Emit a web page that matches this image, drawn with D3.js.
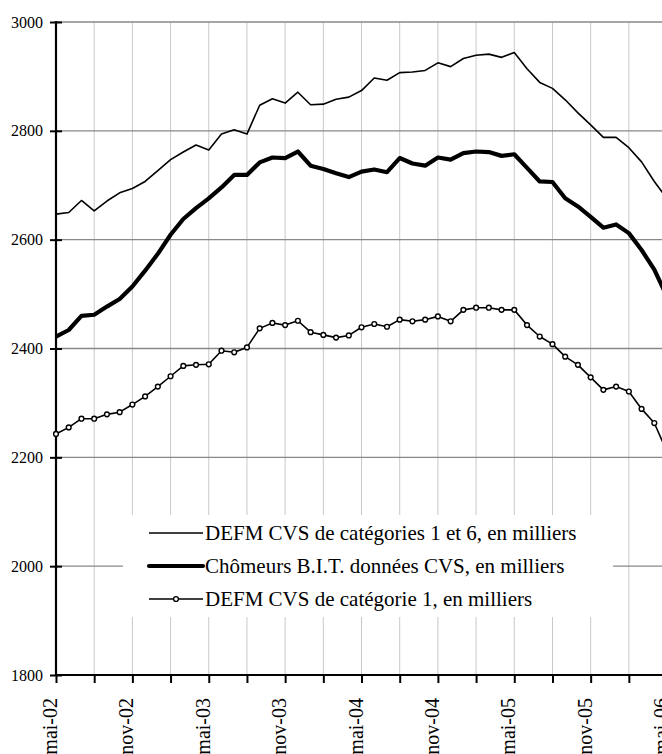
<!DOCTYPE html>
<html>
<head>
<meta charset="utf-8">
<script src="https://cdn.jsdelivr.net/npm/d3@7"></script>
<style>
  body { margin: 0; background: #fff; }
  svg text { font-family: 'Liberation Serif', 'DejaVu Serif', 'Times New Roman', Times, serif; }
</style>
</head>
<body>
<div id="chart"></div>
<script>
// monthly points, mai-02 .. mai-06
const tickLabels = ['mai-02', 'nov-02', 'mai-03', 'nov-03', 'mai-04', 'nov-04', 'mai-05', 'nov-05', 'mai-06'];
const yTicks = [1800, 2000, 2200, 2400, 2600, 2800, 3000];

const seriesNames = [
  'DEFM CVS de catégories 1 et 6, en milliers',
  'Chômeurs B.I.T. données CVS, en milliers',
  'DEFM CVS de catégorie 1, en milliers'
];

const defm16 = [2647, 2650, 2672, 2653, 2671, 2686, 2694, 2707, 2727, 2747, 2761, 2774, 2765, 2794, 2802, 2794,
  2847, 2859, 2851, 2871, 2848, 2849, 2858, 2862, 2874, 2897, 2893, 2907, 2908, 2911, 2925, 2918,
  2933, 2939, 2941, 2935, 2944, 2914, 2889, 2878, 2857, 2833, 2811, 2788, 2788, 2769, 2743, 2707, 2675];

const bit = [2422, 2434, 2460, 2462, 2477, 2491, 2514, 2543, 2574, 2609, 2638, 2658, 2676, 2696, 2719, 2719,
  2742, 2751, 2750, 2762, 2736, 2730, 2722, 2715, 2725, 2729, 2724, 2750, 2740, 2736, 2751, 2747,
  2759, 2762, 2761, 2754, 2757, 2732, 2707, 2706, 2676, 2661, 2642, 2622, 2628, 2612, 2581, 2545, 2495];

const defm1 = [2243, 2255, 2271, 2271, 2279, 2283, 2297, 2312, 2330, 2349, 2368, 2370, 2371, 2396, 2393, 2402,
  2437, 2447, 2443, 2451, 2430, 2425, 2420, 2424, 2439, 2445, 2440, 2453, 2450, 2453, 2459, 2450,
  2471, 2475, 2475, 2471, 2471, 2443, 2422, 2408, 2385, 2370, 2347, 2324, 2330, 2321, 2289, 2263, 2210];

const width = 662;
const height = 754;
const plotLeft = 56;
const plotTop = 22;
const plotBottom = 675;
const serif = "'Liberation Serif', 'DejaVu Serif', 'Times New Roman', Times, serif";

const nMonths = defm16.length;

const x = d3.scaleLinear()
  .domain([0, nMonths - 1])
  .range([plotLeft, plotLeft + 48 * 12.73]);

const y = d3.scaleLinear()
  .domain([1800, 3000])
  .range([plotBottom, plotTop]);

const svg = d3.select('#chart')
  .append('svg')
  .attr('width', width)
  .attr('height', height)
  .style('display', 'block');

svg.append('rect').attr('width', width).attr('height', height).attr('fill', '#fff');

// vertical grid every 3 months
const quarterIdx = d3.range(0, nMonths, 3);
svg.append('g')
  .selectAll('line')
  .data(quarterIdx.slice(1))
  .enter()
  .append('line')
  .attr('x1', d => x(d)).attr('x2', d => x(d))
  .attr('y1', plotTop).attr('y2', plotBottom)
  .attr('stroke', '#c8c8c8')
  .attr('stroke-width', 1);

// horizontal grid
svg.append('g')
  .selectAll('line')
  .data(yTicks.slice(1))
  .enter()
  .append('line')
  .attr('x1', plotLeft).attr('x2', width + 20)
  .attr('y1', d => y(d)).attr('y2', d => y(d))
  .attr('stroke', '#888')
  .attr('stroke-width', 1.3);

// legend box (white, hides the grid)
const legend = svg.append('g');
legend.append('rect')
  .attr('x', 123).attr('y', 515)
  .attr('width', 490).attr('height', 102)
  .attr('fill', '#fff');

// axes
const yAxis = svg.append('g').attr('transform', `translate(${plotLeft},0)`)
  .call(d3.axisLeft(y).tickValues(yTicks).tickSize(6).tickFormat(d3.format('d')));
yAxis.attr('font-family', null);
yAxis.select('.domain').remove();
yAxis.selectAll('.tick line').attr('x2', 6).attr('x1', -6).attr('stroke', '#000').attr('stroke-width', 2);
yAxis.selectAll('.tick text')
  .attr('x', -13)
  .style('font-family', serif)
  .attr('font-size', 16)
  .attr('fill', '#000');

svg.append('line')
  .attr('x1', plotLeft).attr('x2', plotLeft)
  .attr('y1', plotTop - 1).attr('y2', plotBottom)
  .attr('stroke', '#000').attr('stroke-width', 2.2);

const xAxis = svg.append('g').attr('transform', `translate(0,${plotBottom})`)
  .call(d3.axisBottom(x).tickValues(quarterIdx).tickSize(8).tickFormat(''));
xAxis.select('.domain').remove();
xAxis.selectAll('.tick line').attr('stroke', '#000').attr('stroke-width', 2);

svg.append('line')
  .attr('x1', plotLeft - 1).attr('x2', width + 20)
  .attr('y1', plotBottom).attr('y2', plotBottom)
  .attr('stroke', '#000').attr('stroke-width', 2.2);

svg.append('g')
  .selectAll('text')
  .data(tickLabels)
  .enter()
  .append('text')
  .attr('transform', (d, i) => `translate(${x(i * 6) + 1},698) rotate(-90)`)
  .attr('text-anchor', 'end')
  .style('font-family', serif)
  .attr('font-size', 20)
  .attr('fill', '#000')
  .text(d => d);

// series
const line = d3.line()
  .x((d, i) => x(i))
  .y(d => y(d));

svg.append('path')
  .datum(defm16)
  .attr('d', line)
  .attr('fill', 'none')
  .attr('stroke', '#000')
  .attr('stroke-width', 1.6)
  .attr('stroke-linejoin', 'round');

svg.append('path')
  .datum(bit)
  .attr('d', line)
  .attr('fill', 'none')
  .attr('stroke', '#000')
  .attr('stroke-width', 4.2)
  .attr('stroke-linejoin', 'round');

svg.append('path')
  .datum(defm1)
  .attr('d', line)
  .attr('fill', 'none')
  .attr('stroke', '#000')
  .attr('stroke-width', 1.6)
  .attr('stroke-linejoin', 'round');

svg.append('g')
  .selectAll('circle')
  .data(defm1)
  .enter()
  .append('circle')
  .attr('cx', (d, i) => x(i))
  .attr('cy', d => y(d))
  .attr('r', 2.4)
  .attr('fill', '#fff')
  .attr('stroke', '#000')
  .attr('stroke-width', 1.4);

// legend rows
const rowY = [533, 566, 599];
const rowWidth = [1.6, 4.2, 1.6];
seriesNames.forEach((name, i) => {
  const row = legend.append('g').attr('transform', `translate(0,${rowY[i]})`);
  row.append('line')
    .attr('x1', 149).attr('x2', 203)
    .attr('stroke', '#000')
    .attr('stroke-width', rowWidth[i])
    .attr('stroke-linecap', i === 1 ? 'round' : 'butt');
  if (i === 2) {
    row.append('circle')
      .attr('cx', 176).attr('r', 2.4)
      .attr('fill', '#fff').attr('stroke', '#000').attr('stroke-width', 1.4);
  }
  row.append('text')
    .attr('x', 205)
    .attr('dy', '0.35em')
    .style('font-family', serif)
    .attr('font-size', 21)
    .attr('fill', '#000')
    .text(name);
});
</script>
</body>
</html>
